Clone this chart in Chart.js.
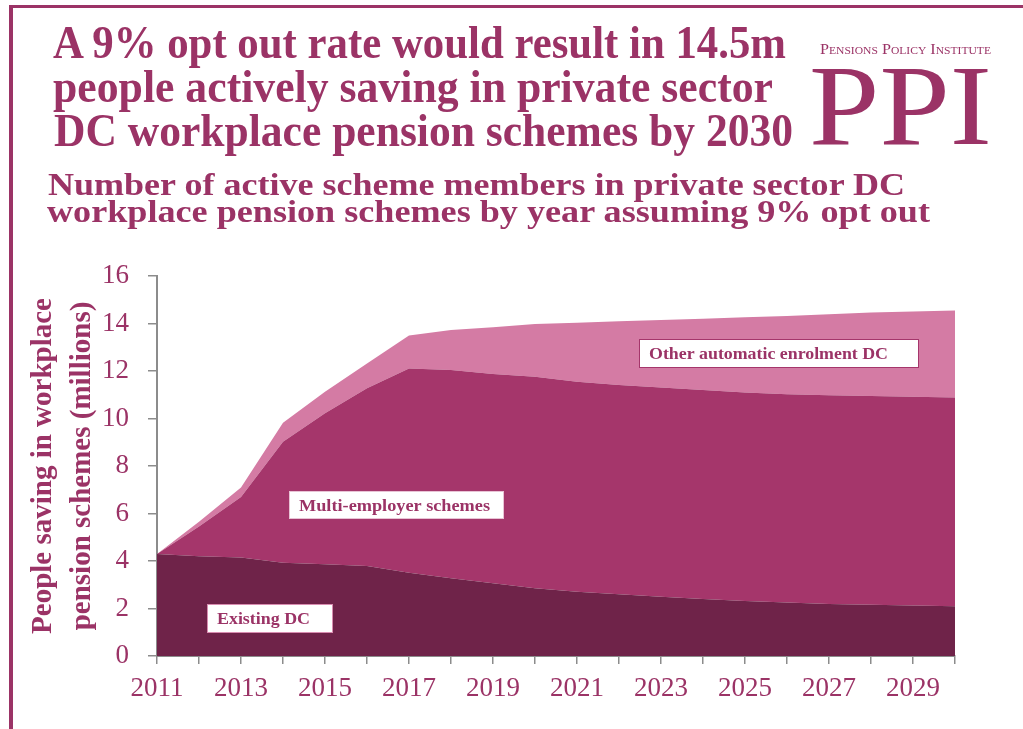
<!DOCTYPE html>
<html>
<head>
<meta charset="utf-8">
<script src="https://cdn.jsdelivr.net/npm/chart.js@4"></script>
<style>
  html, body { margin: 0; padding: 0; background: #fff; }
  #page { position: relative; width: 1023px; height: 729px; overflow: hidden; }
  #frame {
    position: absolute; left: 9px; top: 5px; right: 0; bottom: 0;
    border-left: 4px solid #9b3366; border-top: 3px solid #9b3366;
  }
  .txt {
    position: absolute; white-space: nowrap; line-height: 1;
    font-family: "Liberation Serif", serif; color: #9b3366;
    transform-origin: 0 0;
  }
  .head { font-size: 46px; font-weight: bold; }
  .sub { font-size: 32px; font-weight: bold; }
  .ppi-small { font-size: 14px; font-variant: small-caps; }
  .ppi { font-size: 115px; }
  #wrap { position: absolute; left: 0; top: 0; width: 1023px; height: 729px; }
</style>
</head>
<body>
<div id="page">
  <div id="wrap"><canvas id="membersChart"></canvas></div>
  <div id="frame"></div>

  <span class="txt head" style="left:53px; top:20px" data-fit="733">A 9% opt out rate would result in 14.5m</span>
  <span class="txt head" style="left:53px; top:64px" data-fit="720">people actively saving in private sector</span>
  <span class="txt head" style="left:54px; top:108px" data-fit="739">DC workplace pension schemes by 2030</span>

  <span class="txt sub" style="left:48px; top:168px" data-fit="857">Number of active scheme members in private sector DC</span>
  <span class="txt sub" style="left:47px; top:195px" data-fit="883">workplace pension schemes by year assuming 9% opt out</span>

  <span class="txt ppi-small" style="left:820px; top:43px" data-fit="171">Pensions Policy Institute</span>
  <span class="txt ppi" style="left:809px; top:48px" data-fit="183">PPI</span>
</div>

<script>
// ---------------------
// DATA (millions of active members)
// ---------------------
const years = ["2011","2012","2013","2014","2015","2016","2017","2018","2019","2020",
               "2021","2022","2023","2024","2025","2026","2027","2028","2029","2030"];
const existingDC = [4.3, 4.2, 4.15, 3.93, 3.86, 3.79, 3.51, 3.27, 3.06, 2.85,
                    2.71, 2.6, 2.5, 2.4, 2.32, 2.25, 2.19, 2.16, 2.13, 2.1];
const multiEmployer = [0, 1.25, 2.55, 5.09, 6.36, 7.48, 8.6, 8.77, 8.81, 8.91,
                       8.84, 8.81, 8.81, 8.8, 8.78, 8.77, 8.79, 8.79, 8.79, 8.78];
const otherAutoEnrolment = [0, 0.2, 0.4, 0.8, 0.91, 1.05, 1.38, 1.69, 1.97, 2.22,
                            2.48, 2.68, 2.84, 3.0, 3.16, 3.3, 3.41, 3.51, 3.59, 3.67];
const yTicks = [0, 2, 4, 6, 8, 10, 12, 14, 16];

// labelled boxes sitting on each area (anchored by year index / value)
const areaLabels = [
  { text: "Existing DC", at: 1.19, top: 2.19, w: 126, h: 29, textW: 93, border: "#d88cb0" },
  { text: "Multi-employer schemes", at: 3.14, top: 6.95, w: 215, h: 28, textW: 191, border: "#e8c3d5" },
  { text: "Other automatic enrolment DC", at: 11.48, top: 13.35, w: 280, h: 29, textW: 239, border: "#a5366b" }
];

// squeeze the heading lines to their set widths
document.querySelectorAll("[data-fit]").forEach(el => {
  const w = el.getBoundingClientRect().width;
  el.style.transform = "scaleX(" + (el.dataset.fit / w) + ")";
});

const purple = "#9b3366";
const axisGrey = "#8c8c8c";

const boxLabels = {
  id: "boxLabels",
  afterDatasetsDraw(chart) {
    const { ctx, scales: { x, y } } = chart;
    ctx.save();
    areaLabels.forEach(l => {
      const left = Math.round(x.getPixelForValue(l.at));
      const top = Math.round(y.getPixelForValue(l.top));
      ctx.fillStyle = "#fff";
      ctx.fillRect(left, top, l.w, l.h);
      ctx.strokeStyle = l.border;
      ctx.lineWidth = 1;
      ctx.strokeRect(left + 0.5, top + 0.5, l.w - 1, l.h - 1);
      ctx.font = "bold 16px 'Liberation Serif'";
      ctx.fillStyle = purple;
      ctx.textBaseline = "alphabetic";
      const mw = ctx.measureText(l.text).width;
      ctx.save();
      ctx.translate(left + 10, top + l.h / 2 + 5.5);
      ctx.scale(l.textW / mw, 1);
      ctx.fillText(l.text, 0, 0);
      ctx.restore();
    });
    ctx.restore();
  }
};

new Chart(document.getElementById("membersChart"), {
  type: "line",
  data: {
    labels: years,
    datasets: [
      { label: "Existing DC", data: existingDC, backgroundColor: "#6f2349", fill: "origin" },
      { label: "Multi-employer schemes", data: multiEmployer, backgroundColor: "#a5366b", fill: "-1" },
      { label: "Other automatic enrolment DC", data: otherAutoEnrolment, backgroundColor: "#d47ba4", fill: "-1" }
    ]
  },
  options: {
    responsive: true,
    maintainAspectRatio: false,
    animation: false,
    layout: { padding: { left: 12, top: 276, right: 68, bottom: 0 } },
    elements: {
      point: { radius: 0 },
      line: { borderWidth: 0, tension: 0 }
    },
    plugins: {
      legend: { display: false },
      tooltip: { enabled: false }
    },
    scales: {
      x: {
        offset: false,
        grid: { drawOnChartArea: false, drawTicks: true, tickLength: 8, color: axisGrey, lineWidth: 1.5 },
        border: { display: true, color: axisGrey, width: 2 },
        ticks: {
          autoSkip: false,
          maxRotation: 0,
          padding: 9,
          color: purple,
          font: { family: "Liberation Serif", size: 27 },
          callback: (v, i) => (i % 2 === 0 ? years[i] : "")
        },
        afterFit: s => { s.height = 73; }
      },
      y: {
        stacked: true,
        min: 0,
        max: 16,
        afterBuildTicks: s => { s.ticks = yTicks.map(v => ({ value: v })); },
        grid: { drawOnChartArea: false, drawTicks: true, tickLength: 9, color: axisGrey, lineWidth: 1.5 },
        border: { display: true, color: axisGrey, width: 2 },
        ticks: {
          padding: 19,
          color: purple,
          font: { family: "Liberation Serif", size: 27 }
        },
        title: {
          display: true,
          text: ["People saving in workplace", "pension schemes (millions)"],
          color: purple,
          padding: { top: 12, bottom: 0 },
          font: { family: "Liberation Serif", size: 29, weight: "bold", lineHeight: 1.345 }
        },
        afterFit: s => { s.width = 145; }
      }
    }
  },
  plugins: [boxLabels]
});
</script>
</body>
</html>
